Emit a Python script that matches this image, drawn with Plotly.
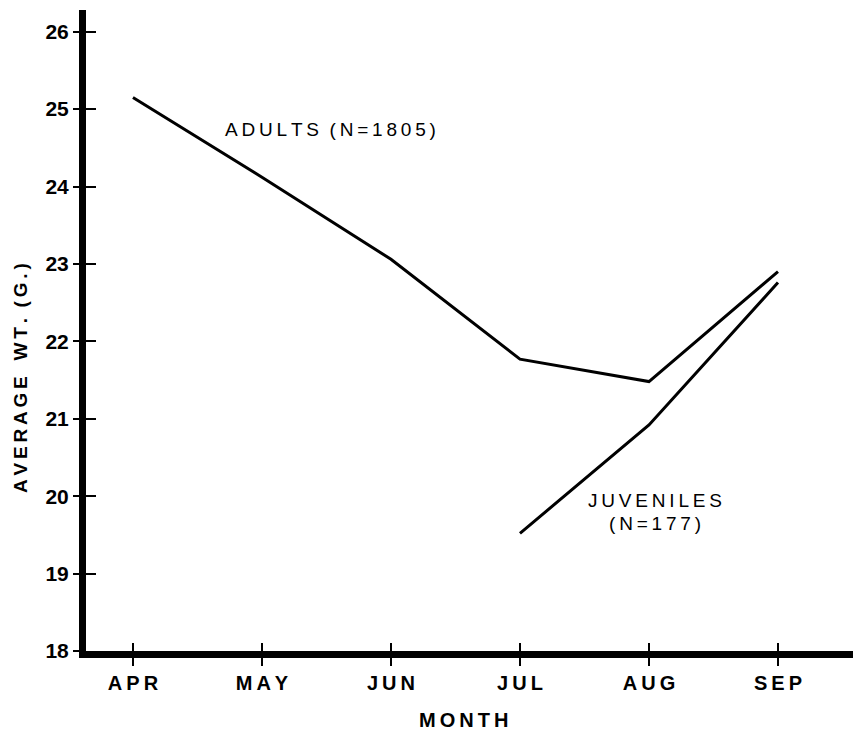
import plotly.graph_objects as go

months = ["APR", "MAY", "JUN", "JUL", "AUG", "SEP"]
adult_wt = [25.15, 24.12, 23.06, 21.77, 21.48, 22.90]
juv_months = ["JUL", "AUG", "SEP"]
juv_wt = [19.52, 20.92, 22.76]
y_ticks = [18, 19, 20, 21, 22, 23, 24, 25, 26]

idx = {m: i for i, m in enumerate(months)}
TS = "\u2009"
def spaced(s):
    return TS.join(list(s))

fig = go.Figure()
fig.add_trace(go.Scatter(x=[idx[m] for m in months], y=adult_wt, mode="lines",
                         line=dict(color="black", width=3), showlegend=False))
fig.add_trace(go.Scatter(x=[idx[m] for m in juv_months], y=juv_wt, mode="lines",
                         line=dict(color="black", width=3), showlegend=False))
# dummy trace for inside-tick overlay axes
fig.add_trace(go.Scatter(x=[None], y=[None], xaxis="x2", yaxis="y2", showlegend=False))

FAM = "Liberation Sans, Arial, sans-serif"
xfont = dict(family=FAM, color="black", size=20, weight="bold")
yfont = dict(family=FAM, color="black", size=21, weight="bold")
xr = [-0.364, 5.597]
yr = [18, 26.28]

# the page body has an 8px margin, so the figure is sized to fit inside it
W, H = 853, 723
L, R, T, B = 78, 6, 2, 80
pw, ph = W - L - R, H - T - B

fig.update_layout(
    width=W, height=H,
    margin=dict(l=L, r=R, t=T, b=B),
    paper_bgcolor="white", plot_bgcolor="white",
    xaxis=dict(range=xr, tickvals=list(range(len(months))),
               ticktext=[spaced(m) for m in months],
               showgrid=False, zeroline=False, showline=True, linecolor="black", linewidth=7,
               ticks="outside", ticklen=8, tickwidth=2, tickcolor="black",
               tickfont=xfont),
    yaxis=dict(range=yr, tickvals=y_ticks, ticktext=[str(v) for v in y_ticks],
               showgrid=False, zeroline=False, showline=True, linecolor="black", linewidth=7,
               ticks="outside", ticklen=6, tickwidth=2, tickcolor="black",
               tickfont=yfont),
    xaxis2=dict(range=xr, overlaying="x", tickvals=list(range(len(months))), showticklabels=False,
                showgrid=False, zeroline=False, showline=False,
                ticks="inside", ticklen=8, tickwidth=2, tickcolor="black"),
    yaxis2=dict(range=yr, overlaying="y", tickvals=y_ticks, showticklabels=False,
                showgrid=False, zeroline=False, showline=False,
                ticks="inside", ticklen=10, tickwidth=2, tickcolor="black"),
)

ann_font = dict(family=FAM, color="black", size=19)
fig.add_annotation(x=1.535, y=24.74, xref="x", yref="y",
                   text=spaced("ADULTS") + "  " + spaced("(N=1805)"),
                   showarrow=False, font=ann_font)
fig.add_annotation(x=4.05, y=19.95, xref="x", yref="y", text=spaced("JUVENILES"),
                   showarrow=False, font=ann_font)
fig.add_annotation(x=4.05, y=19.65, xref="x", yref="y", text=spaced("(N=177)"),
                   showarrow=False, font=ann_font)
# y title
fig.add_annotation(x=(12 - L) / pw, y=(T + ph - 370) / ph, xref="paper", yref="paper",
                   xanchor="center", yanchor="middle", textangle=-90,
                   text=spaced("AVERAGE") + "   " + spaced("WT.") + "  " + spaced("(G.)"),
                   showarrow=False, font=dict(family=FAM, color="black", size=19, weight="bold"))
# x title
fig.add_annotation(x=(455 - L) / pw, y=(T + ph - 712) / ph, xref="paper", yref="paper",
                   xanchor="center", yanchor="middle",
                   text=spaced("MONTH"), showarrow=False,
                   font=dict(family=FAM, color="black", size=20, weight="bold"))

fig.write_html("out.html")
